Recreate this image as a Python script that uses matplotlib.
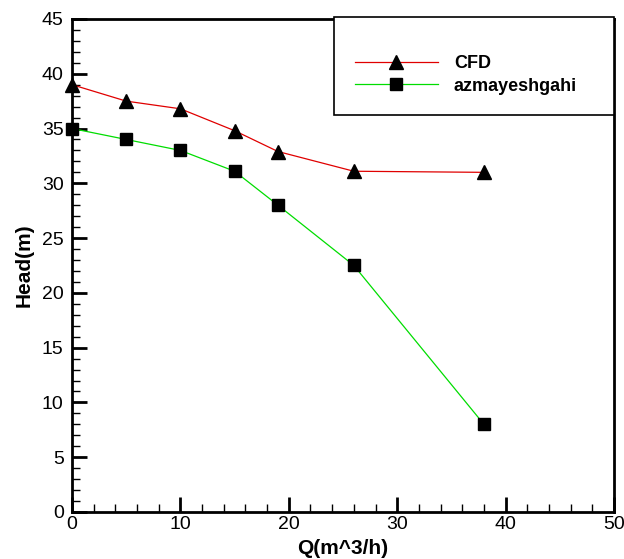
import matplotlib
matplotlib.use('Agg')
import matplotlib.pyplot as plt
from matplotlib.ticker import MultipleLocator

plt.rcParams['font.family'] = ['Liberation Sans', 'DejaVu Sans']

# data
q_cfd = [0, 5, 10, 15, 19, 26, 38]
head_cfd = [39.0, 37.5, 36.8, 34.8, 32.9, 31.1, 31.0]
q_exp = [0, 5, 10, 15, 19, 26, 38]
head_exp = [35.0, 34.0, 33.0, 31.1, 28.0, 22.5, 8.0]

fig = plt.figure(figsize=(6.24, 5.59), dpi=100)
ax = fig.add_axes([0.1154, 0.0841, 0.8686, 0.882])

ax.plot(q_cfd, head_cfd, color='#e00000', lw=0.9, marker='^', ms=10,
        mfc='black', mec='black', label='CFD', clip_on=False, zorder=3)
ax.plot(q_exp, head_exp, color='#00dd00', lw=0.9, marker='s', ms=9,
        mfc='black', mec='black', label='azmayeshgahi', clip_on=False, zorder=3)

ax.set_xlim(0, 50)
ax.set_ylim(0, 45)
ax.xaxis.set_major_locator(MultipleLocator(10))
ax.xaxis.set_minor_locator(MultipleLocator(2))
ax.yaxis.set_major_locator(MultipleLocator(5))
ax.yaxis.set_minor_locator(MultipleLocator(1))
ax.tick_params(which='major', direction='in', length=11, width=2, labelsize=14)
ax.tick_params(which='minor', direction='in', length=6, width=1)
ax.tick_params(axis='x', which='major', pad=3)
ax.tick_params(axis='y', which='major', pad=6)
for s in ax.spines.values():
    s.set_linewidth(2)

ax.set_xlabel('Q(m^3/h)', fontsize=15, fontweight='bold', labelpad=4)
ax.set_ylabel('Head(m)', fontsize=15, fontweight='bold', labelpad=6)

leg = ax.legend(loc='upper left', bbox_to_anchor=(0.483, 0.809, 0.517, 0.195),
                mode='expand', fancybox=False, edgecolor='black', framealpha=1,
                prop={'size': 13, 'weight': 'bold'}, handlelength=4.6,
                title=' ', title_fontsize=9,
                borderpad=1.15, labelspacing=0.3, handletextpad=0.9, borderaxespad=0)
leg.get_frame().set_linewidth(1.2)

fig.savefig('out.png', dpi=100)
